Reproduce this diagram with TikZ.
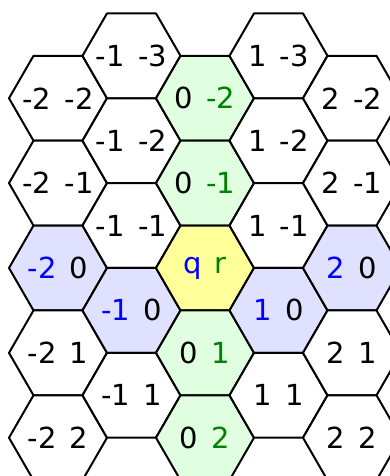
\documentclass[tikz,border=0pt]{standalone}
\usepackage{fontspec}
\setmainfont{DejaVu Sans}
\usepackage{tikz}

\definecolor{qblue}{RGB}{0,0,255}
\definecolor{rgreen}{RGB}{0,128,0}
\definecolor{colfill}{RGB}{224,255,224}
\definecolor{rowfill}{RGB}{224,224,255}
\definecolor{midfill}{RGB}{255,255,153}

\newcommand{\qrsep}{\hspace{0.46em}}

\begin{document}
\begin{tikzpicture}[x=1pt, y=1pt, line width=2pt, line join=round,
    hexlabel/.style={inner sep=0pt, font=\fontsize{29}{34}\selectfont}]
    \useasboundingbox (-205,-208) rectangle (185,268);
    \clip (-205,-208) rectangle (185,268);
    % columns q, first row r of each column
    \foreach \q/\rfirst in {-2/-2, -1/-3, 0/-2, 1/-3, 2/-2} {
        \pgfmathtruncatemacro{\rlast}{\rfirst+4}
        \foreach \r in {\rfirst,...,\rlast} {
            \pgfmathsetmacro{\ypos}{-84.87*\r-42.435*mod(abs(\q),2)}
            \def\cellfill{white}
            \def\celltext{\q\qrsep\r}
            \ifnum\q=0
                \def\cellfill{colfill}
                \def\celltext{0\qrsep\textcolor{rgreen}{\r}}
                \ifnum\r=0
                    \def\cellfill{midfill}
                    \def\celltext{\textcolor{qblue}{q}\qrsep\textcolor{rgreen}{r}}
                \fi
            \else
                \ifnum\r=0
                    \def\cellfill{rowfill}
                    \def\celltext{\textcolor{qblue}{\q}\qrsep0}
                \fi
            \fi
            \coordinate (c\q\r) at ({73.5*(\q)},\ypos);
            \draw[fill=\cellfill] (c\q\r) +(0:49) -- +(60:49) -- +(120:49)
                -- +(180:49) -- +(240:49) -- +(300:49) -- cycle;
            \node[hexlabel] (h\q\r) at (c\q\r) {\celltext};
        }
    }
\end{tikzpicture}
\end{document}
